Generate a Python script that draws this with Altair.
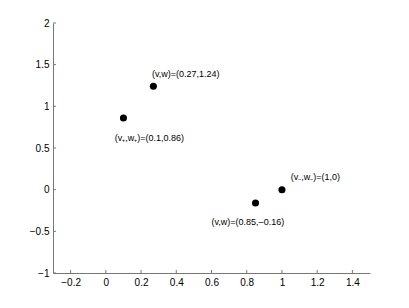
import altair as alt
import pandas as pd

# data
vs = [0.1, 0.27, 0.85, 1.0]
ws = [0.86, 1.24, -0.16, 0.0]
labels = ["(v₊,w₊)=(0.1,0.86)", "(v,w)=(0.27,1.24)", "(v,w)=(0.85,–0.16)", "(v₋,w₋)=(1,0)"]
x_ticks = [-0.2, 0, 0.2, 0.4, 0.6, 0.8, 1.0, 1.2, 1.4]
y_ticks = [-1, -0.5, 0, 0.5, 1, 1.5, 2]

pts = pd.DataFrame({"v": vs, "w": ws, "label": labels, "i": range(4)})
xt = pd.DataFrame({"t": x_ticks})
yt = pd.DataFrame({"t": y_ticks})

FONT = "Liberation Sans"
xs = alt.Scale(domain=[-0.3, 1.5], nice=False, zero=False)
ysc = alt.Scale(domain=[-1, 2], nice=False, zero=False)

xaxis = alt.Axis(values=x_ticks, format="~g", grid=False, tickSize=0, labelPadding=4,
                 labelOverlap=False, labelFlush=False,
                 domainColor="#777", labelColor="black", labelFont=FONT, labelFontSize=10,
                 title=None)
yaxis = alt.Axis(values=y_ticks, format="~g", grid=False, tickSize=0, labelPadding=4,
                 labelOverlap=False, labelFlush=False,
                 domainColor="#777", labelColor="black", labelFont=FONT, labelFontSize=10,
                 title=None)

points = alt.Chart(pts).mark_point(filled=True, color="black", size=50, opacity=1).encode(
    x=alt.X("v:Q", scale=xs, axis=xaxis),
    y=alt.Y("w:Q", scale=ysc, axis=yaxis),
)

offsets = [(-8.6, 20), (-1.5, -12), (-44, 19), (8.7, -13)]
texts = []
for i, (dx, dy) in enumerate(offsets):
    texts.append(
        alt.Chart(pts).transform_filter(alt.datum.i == i)
        .mark_text(align="left", baseline="middle", dx=dx, dy=dy, font=FONT, fontSize=9, color="black")
        .encode(x=alt.X("v:Q", scale=xs, axis=xaxis), y=alt.Y("w:Q", scale=ysc, axis=yaxis), text="label:N")
    )

xtick_marks = alt.Chart(xt).mark_rule(color="#777", strokeWidth=1).encode(
    x=alt.X("t:Q", scale=xs, axis=xaxis), y=alt.value(250), y2=alt.value(247)
)
ytick_marks = alt.Chart(yt).mark_rule(color="#777", strokeWidth=1).encode(
    y=alt.Y("t:Q", scale=ysc, axis=yaxis), x=alt.value(0), x2=alt.value(3)
)

chart = alt.layer(points, xtick_marks, ytick_marks, *texts).properties(
    width=317, height=250,
    autosize=alt.AutoSizeParams(type="none"),
    padding={"left": 45, "top": 15, "right": 31, "bottom": 27},
).configure_view(stroke=None).configure_axis(domainWidth=1, labelOverlap=False)

chart.save("out.html", embed_options={"renderer": "svg", "actions": False})
